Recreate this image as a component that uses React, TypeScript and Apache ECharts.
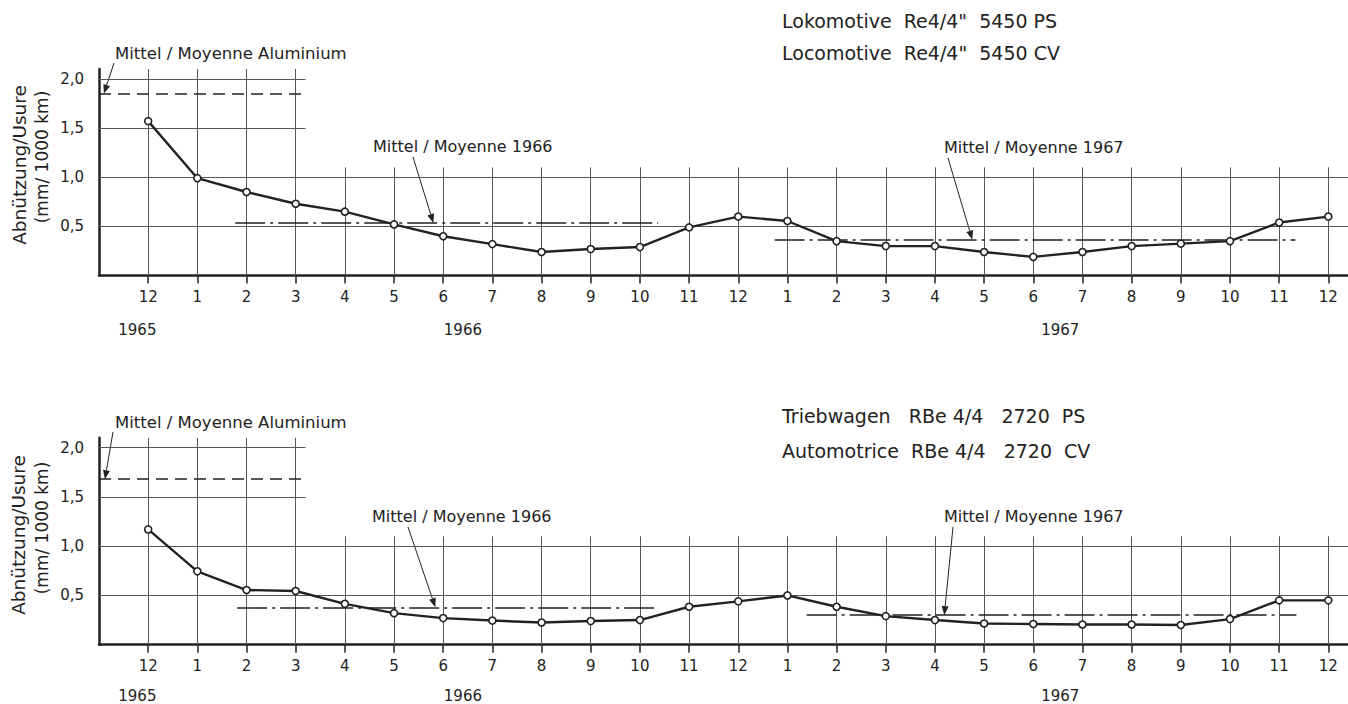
import React, { useEffect, useRef } from "react";
import * as echarts from "echarts";

// ---------- data ----------
const MONTH_LABELS = ["12", "1", "2", "3", "4", "5", "6", "7", "8", "9", "10", "11", "12", "1", "2", "3", "4", "5", "6", "7", "8", "9", "10", "11", "12"];
const YEAR_LABELS = ["1965", "1966", "1967"];
const Y_TICKS = [0.5, 1.0, 1.5, 2.0];

// Lokomotive Re 4/4 II — wear mm / 1000 km, Dec 1965 .. Dec 1967
const LOCO_WEAR = [1.57, 0.99, 0.85, 0.73, 0.65, 0.52, 0.40, 0.32, 0.24, 0.27, 0.29, 0.49, 0.60, 0.555, 0.35, 0.30, 0.30, 0.24, 0.19, 0.24, 0.30, 0.325, 0.35, 0.54, 0.60];
// Triebwagen RBe 4/4
const RBE_WEAR = [1.17, 0.745, 0.555, 0.545, 0.415, 0.32, 0.27, 0.245, 0.225, 0.24, 0.25, 0.385, 0.44, 0.50, 0.385, 0.29, 0.25, 0.215, 0.21, 0.205, 0.205, 0.20, 0.26, 0.45, 0.45];

// means: Aluminium, 1966, 1967
const LOCO_MEANS = [1.85, 0.535, 0.365];
const RBE_MEANS = [1.68, 0.38, 0.30];
const MEAN_LABELS = ["Mittel / Moyenne Aluminium", "Mittel / Moyenne 1966", "Mittel / Moyenne 1967"];

const LOCO_TITLE = ['Lokomotive  Re4/4"  5450 PS', 'Locomotive  Re4/4"  5450 CV'];
const RBE_TITLE = ["Triebwagen   RBe 4/4   2720  PS", "Automotrice  RBe 4/4   2720  CV"];
const Y_NAME = ["Abnützung/Usure", "(mm/ 1000 km)"];

// ---------- layout ----------
const FONT = "DejaVu Sans";
const INK = "#222";
const X_MIN = -1;
const X_MAX = 24.4;
const Y_MAX = 2.1;
const MONTH_INDEX = MONTH_LABELS.map((_, i) => i);

const PANELS = [
  {
    data: LOCO_WEAR,
    means: LOCO_MEANS,
    title: LOCO_TITLE,
    gridTop: 69,
    gridHeight: 206.6,
    meanSpans: [[-1, 3.23], [1.77, 10.37], [12.74, 23.33]],
    tipX: [-0.9, 5.8, 16.76],
    labelPos: [[115, 53], [373, 146], [944, 147]],
    leaderStart: [[114, 63], [413, 157], [948, 158]],
    titleX: 782,
    titleY: [21, 53],
    yName: [[19, 165], [42, 157]],
    yearY: 330,
  },
  {
    data: RBE_WEAR,
    means: RBE_MEANS,
    title: RBE_TITLE,
    gridTop: 437.8,
    gridHeight: 206.9,
    meanSpans: [[-1, 3.2], [1.81, 10.3], [13.39, 23.35]],
    tipX: [-0.88, 5.84, 16.19],
    labelPos: [[115, 422], [372, 516], [944, 516]],
    leaderStart: [[113, 432], [408, 527], [953, 527]],
    titleX: 782,
    titleY: [416, 451],
    yName: [[18, 535], [42, 528]],
    yearY: 696,
  },
];
const YEAR_X = [-0.22, 6.4, 18.55];
const MEAN_DASH: any[] = [[12, 7], [30, 5, 3, 5], [30, 5, 3, 5]];
const MEAN_LABEL_SIZE = [16.5, 16, 16];

function xFormatter(v: number) {
  const i = Math.round(v);
  return Math.abs(v - i) < 1e-6 && i >= 0 && i < MONTH_LABELS.length ? MONTH_LABELS[i] : "";
}
function yFormatter(v: number) {
  const t = Y_TICKS.find((y) => Math.abs(y - v) < 1e-6);
  return t === undefined ? "" : t.toFixed(1).replace(".", ",");
}

function buildOption() {
  const grid: any[] = [];
  const xAxis: any[] = [];
  const yAxis: any[] = [];
  const series: any[] = [];
  PANELS.forEach((p, k) => {
    grid.push({ left: 99, right: 0, top: p.gridTop, height: p.gridHeight, outerBoundsMode: "none", containLabel: false });
    xAxis.push({
      type: "value", gridIndex: k, min: X_MIN, max: X_MAX, interval: 1,
      axisLine: { show: true, onZero: false, lineStyle: { color: INK, width: 2.5 } },
      axisTick: { show: true, length: 8, customValues: MONTH_INDEX, lineStyle: { color: INK, width: 1.5 } },
      splitLine: { show: false },
      axisLabel: { formatter: xFormatter, fontSize: 15, fontFamily: FONT, color: INK, margin: 14 },
    });
    yAxis.push({
      type: "value", gridIndex: k, min: 0, max: Y_MAX, interval: 0.5,
      axisLine: { show: true, onZero: false, lineStyle: { color: INK, width: 2.5 } },
      axisTick: { show: false }, splitLine: { show: false },
      axisLabel: { formatter: yFormatter, fontSize: 15, fontFamily: FONT, color: INK, margin: 15 },
    });
    const gridLines: any[] = [];
    MONTH_INDEX.forEach((i) => {
      gridLines.push({ coords: [[i, 0], [i, i <= 3 ? Y_MAX : 1.1]] });
    });
    Y_TICKS.forEach((v) => {
      gridLines.push({ coords: [[X_MIN, v], [v >= 1.5 ? 3.2 : X_MAX, v]] });
    });
    series.push({
      type: "lines", coordinateSystem: "cartesian2d", xAxisIndex: k, yAxisIndex: k, z: 1, silent: true,
      lineStyle: { color: "#555", width: 1, opacity: 1, curveness: 0 },
      data: gridLines,
    });
    series.push({
      type: "lines", coordinateSystem: "cartesian2d", xAxisIndex: k, yAxisIndex: k, z: 2, silent: true,
      data: p.means.map((m, j) => ({
        coords: [[p.meanSpans[j][0], m], [p.meanSpans[j][1], m]],
        lineStyle: { color: INK, width: 1.6, opacity: 1, type: MEAN_DASH[j], curveness: 0 },
      })),
    });
    series.push({
      type: "line", xAxisIndex: k, yAxisIndex: k, z: 3, silent: true, clip: false,
      data: p.data.map((v, i) => [i, v]),
      symbol: "circle", symbolSize: 7,
      itemStyle: { color: "#fff", borderColor: INK, borderWidth: 1.6 },
      lineStyle: { color: INK, width: 2.4 },
    });
  });
  return { animation: false, backgroundColor: "#fff", grid, xAxis, yAxis, series };
}

function buildGraphics(chart: any) {
  const els: any[] = [];
  const text = (t: string, x: number, y: number, size: number, extra: any = {}) => ({
    type: "text", x, y, ...extra,
    style: { text: t, fontSize: size, fontFamily: FONT, fill: INK, textAlign: extra.align || "left", textVerticalAlign: "middle" },
  });
  PANELS.forEach((p, k) => {
    const toPx = (x: number, y: number) => chart.convertToPixel({ xAxisIndex: k, yAxisIndex: k }, [x, y]);
    p.title.forEach((t, j) => els.push(text(t, p.titleX, p.titleY[j], 19)));
    els.push(text(Y_NAME[0], p.yName[0][0], p.yName[0][1], 18.5, { rotation: Math.PI / 2, align: "center" }));
    els.push(text(Y_NAME[1], p.yName[1][0], p.yName[1][1], 17, { rotation: Math.PI / 2, align: "center" }));
    YEAR_LABELS.forEach((y, j) => {
      const [px] = toPx(YEAR_X[j], 0);
      els.push(text(y, px, p.yearY, 15, { align: "center" }));
    });
    MEAN_LABELS.forEach((lab, j) => {
      els.push(text(lab, p.labelPos[j][0], p.labelPos[j][1], MEAN_LABEL_SIZE[j]));
      const [tx, ty] = toPx(p.tipX[j], p.means[j]);
      const [sx, sy] = p.leaderStart[j];
      const dx = tx - sx, dy = ty - sy;
      const len = Math.sqrt(dx * dx + dy * dy);
      const ux = dx / len, uy = dy / len;
      const bx = tx - ux * 9, by = ty - uy * 9;
      const nx = -uy, ny = ux;
      els.push({ type: "line", shape: { x1: sx, y1: sy, x2: bx, y2: by }, style: { stroke: INK, lineWidth: 1 } });
      els.push({
        type: "polygon",
        shape: { points: [[tx, ty], [bx + nx * 3.5, by + ny * 3.5], [bx - nx * 3.5, by - ny * 3.5]] },
        style: { fill: INK },
      });
    });
  });
  return els;
}

export default function App() {
  const ref = useRef<HTMLDivElement>(null);
  useEffect(() => {
    const chart = echarts.init(ref.current!, undefined, { renderer: "svg" });
    chart.setOption(buildOption() as any);
    chart.setOption({ graphic: buildGraphics(chart) } as any);
    return () => chart.dispose();
  }, []);
  return (
    <div
      ref={ref}
      style={{ position: "absolute", left: 0, top: 0, width: 1348, height: 704, background: "#fff" }}
    />
  );
}
